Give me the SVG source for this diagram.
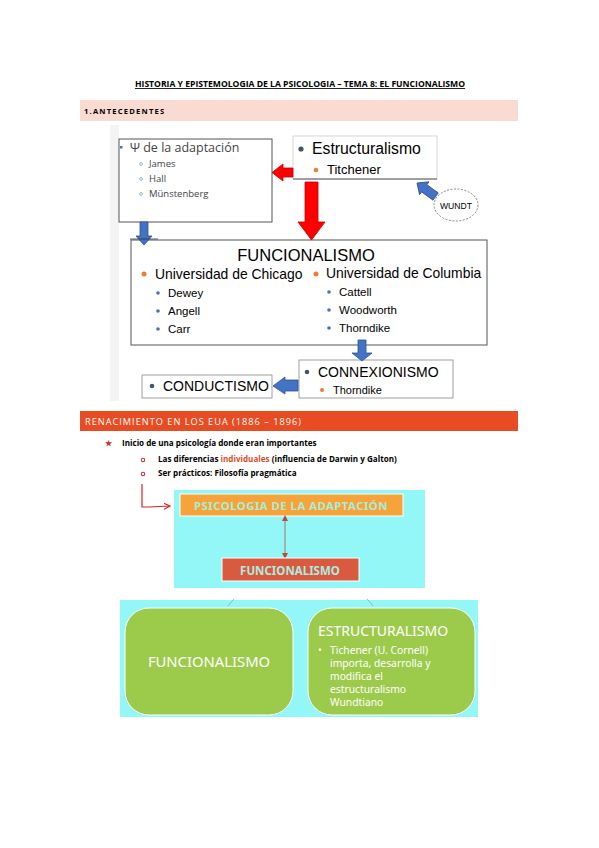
<svg xmlns="http://www.w3.org/2000/svg" width="599" height="848" viewBox="0 0 599 848">
<defs>
<style>
.t{font-family:"Liberation Sans",Arial,sans-serif;fill:#000}
.c{font-family:"Open Sans","Liberation Sans",sans-serif}
.g{font-family:"Noto Sans","Liberation Sans",sans-serif}
.box{fill:#fff;stroke:#555;stroke-width:1}
.blue{fill:#4472C4;stroke:#2F528F;stroke-width:0.8}
.red{fill:#FF0000;stroke:#C00000;stroke-width:0.8}
.sb{fill:none;stroke:#7F9FD8;stroke-width:0.8}
</style>
<marker id="ah" markerWidth="8" markerHeight="8" refX="6" refY="3" orient="auto" markerUnits="userSpaceOnUse"><path d="M0,0 L6,3 L0,6" fill="none" stroke="#E02020" stroke-width="1.2"/></marker>
<marker id="bh" markerWidth="6" markerHeight="6" refX="3" refY="3" orient="auto" markerUnits="userSpaceOnUse"><path d="M0,0 L6,3 L0,6 z" fill="#B0503A"/></marker>
<marker id="bt" markerWidth="6" markerHeight="6" refX="3" refY="3" orient="auto-start-reverse" markerUnits="userSpaceOnUse"><path d="M0,0 L6,3 L0,6 z" fill="#B0503A"/></marker>
</defs>
<rect width="599" height="848" fill="#fff"/>

<text class="c" x="300" y="87" font-size="8.6" font-weight="bold" text-anchor="middle" text-decoration="underline">HISTORIA Y EPISTEMOLOGIA DE LA PSICOLOGIA – TEMA 8: EL FUNCIONALISMO</text>

<g id="header1">
<rect x="80" y="100" width="438" height="21" fill="#FADBD2"/>
<text class="c" x="84" y="114" font-size="7.6" font-weight="bold" letter-spacing="1.2">1.ANTECEDENTES</text>
</g>

<rect x="110" y="125" width="9" height="276" fill="#F4F4F4"/>

<g id="adaptacion">
<rect class="box" x="119" y="139" width="153" height="83" stroke="#777"/>
<rect x="120" y="146" width="2.5" height="2.5" fill="#4472C4"/>
<text class="c" x="130" y="152" font-size="12.5" fill="#444">Ψ de la adaptación</text>
<g font-size="9.5" fill="#444">
<circle class="sb" cx="141" cy="164" r="1.4"/>
<text class="c" x="149" y="167">James</text>
<circle class="sb" cx="141" cy="179" r="1.4"/>
<text class="c" x="149" y="182">Hall</text>
<circle class="sb" cx="141" cy="194" r="1.4"/>
<text class="c" x="149" y="197">Münstenberg</text>
</g>
</g>

<g id="estructuralismo">
<rect x="293" y="136" width="144" height="43" fill="#fff" stroke="#ccc" stroke-width="0.8"/>
<line x1="293" y1="179" x2="437" y2="179" stroke="#555" stroke-width="1"/>
<circle cx="301" cy="149" r="2.6" fill="#44546A"/>
<text class="t" x="312" y="154" font-size="15.8">Estructuralismo</text>
<circle cx="316" cy="170" r="2.3" fill="#ED7D31"/>
<text class="t" x="327" y="174" font-size="13">Titchener</text>
</g>

<g id="wundt">
<ellipse cx="456" cy="205" rx="22" ry="16" fill="#fff" stroke="#666" stroke-width="0.8" stroke-dasharray="2,1.5"/>
<text class="t" x="456" y="208.5" font-size="8.6" text-anchor="middle" fill="#333">WUNDT</text>
</g>

<g id="funcionalismo">
<rect class="box" x="131" y="240" width="356" height="105"/>
<text class="t" x="306" y="261" font-size="16.5" text-anchor="middle">FUNCIONALISMO</text>
<circle cx="144" cy="274" r="2.5" fill="#ED7D31"/>
<text class="t" x="155" y="279" font-size="13.9">Universidad de Chicago</text>
<circle cx="316" cy="274" r="2.5" fill="#ED7D31"/>
<text class="t" x="326" y="278" font-size="13.9">Universidad de Columbia</text>
<g font-size="11.5">
<circle cx="158" cy="293" r="1.8" fill="#4472C4"/><text class="t" x="168" y="297">Dewey</text>
<circle cx="158" cy="311" r="1.8" fill="#4472C4"/><text class="t" x="168" y="315">Angell</text>
<circle cx="158" cy="329" r="1.8" fill="#4472C4"/><text class="t" x="168" y="333">Carr</text>
<circle cx="329" cy="292" r="1.8" fill="#4472C4"/><text class="t" x="339" y="296">Cattell</text>
<circle cx="329" cy="310" r="1.8" fill="#4472C4"/><text class="t" x="339" y="314">Woodworth</text>
<circle cx="329" cy="328" r="1.8" fill="#4472C4"/><text class="t" x="339" y="332">Thorndike</text>
</g>
</g>

<g id="connexionismo">
<rect x="299" y="360" width="154" height="38" fill="#fff" stroke="#888" stroke-width="0.8"/>
<circle cx="307" cy="372" r="2.3" fill="#44546A"/>
<text class="t" x="318" y="377" font-size="14">CONNEXIONISMO</text>
<circle cx="322" cy="390" r="2" fill="#ED7D31"/>
<text class="t" x="333" y="394" font-size="11">Thorndike</text>
</g>

<g id="conductismo">
<rect x="142" y="375" width="130" height="23" fill="#fff" stroke="#888" stroke-width="0.8"/>
<circle cx="152" cy="386" r="2.3" fill="#44546A"/>
<text class="t" x="163" y="391" font-size="14">CONDUCTISMO</text>
</g>

<g id="connectors">
<polygon class="red" points="293,168 283,168 283,164 272,172.5 283,181 283,177 293,177"/>
<polygon class="red" points="305,182 318,182 318,222 325,222 311.5,240 298,222 305,222"/>
<polygon class="blue" transform="translate(417,183) rotate(36)" points="0,0 9,-8 9,-4.5 23,-4.5 23,4.5 9,4.5 9,8"/>
<polygon class="blue" points="140,222 148,222 148,236 152,236 144,245 136,236 140,236"/>
<line x1="130" y1="239" x2="158" y2="239" stroke="#333" stroke-width="0.8"/>
<polygon class="blue" points="358,340 366,340 366,353 372,353 362,361 352,353 358,353"/>
<polygon class="blue" points="298,380 285,380 285,377 273,386 285,394 285,391 298,391"/>
</g>

<g id="header2">
<rect x="80" y="411" width="438" height="20" fill="#E84C22"/>
<text class="c" x="85" y="425" font-size="9.2" fill="#fff" letter-spacing="1">RENACIMIENTO EN LOS EUA (1886 – 1896)</text>
</g>

<g id="list" font-size="8.1" font-weight="bold">
<text class="c" x="105" y="446" font-size="8" fill="#C0392B">★</text>
<text class="c" x="122" y="446">Inicio de  una psicología donde eran importantes</text>
<circle cx="143" cy="460" r="1.7" fill="none" stroke="#C0392B" stroke-width="1.1"/>
<text class="c" x="158" y="462">Las diferencias <tspan fill="#E0502A">individuales</tspan> (influencia de  Darwin y Galton)</text>
<circle cx="143" cy="474" r="1.7" fill="none" stroke="#C0392B" stroke-width="1.1"/>
<text class="c" x="158" y="476">Ser prácticos: Filosofía pragmática</text>
</g>

<g id="link">
<path d="M142,484 L142,507 L149,507 L170,506" fill="none" stroke="#E02020" stroke-width="1.2" marker-end="url(#ah)"/>
</g>

<g id="smartart1">
<rect x="174" y="490" width="251" height="98" fill="#94F7F7"/>
<g id="psico-adaptacion">
<rect x="180" y="494" width="223" height="22" fill="#F5A33A" stroke="#fff" stroke-width="1"/>
<text class="g" x="291" y="510" font-size="11.3" font-weight="bold" text-anchor="middle" fill="#A9EDD9" letter-spacing="0.5">PSICOLOGIA DE LA ADAPTACIÓN</text>
</g>
<line x1="285" y1="518" x2="285" y2="556" stroke="#B0503A" stroke-width="0.8" marker-start="url(#bt)" marker-end="url(#bh)"/>
<g id="func2">
<rect x="222" y="558" width="137" height="23" fill="#D95A3E" stroke="#fff" stroke-width="1"/>
<text class="g" x="290" y="575" font-size="11.5" font-weight="bold" text-anchor="middle" fill="#A9EDE0">FUNCIONALISMO</text>
</g>
</g>

<g id="smartart2">
<rect x="120" y="600" width="358" height="117" fill="#94F7F7"/>
<path d="M228,606 Q231,602 234,599" fill="none" stroke="#7FB0A0" stroke-width="0.8"/>
<path d="M367,599 Q370,602 373,606" fill="none" stroke="#7FB0A0" stroke-width="0.8"/>
<g id="func3">
<rect x="125" y="608" width="168" height="107" rx="24" fill="#9CCB4B" stroke="#fff" stroke-width="1"/>
<text class="g" x="209" y="667" font-size="14.8" text-anchor="middle" fill="#fff">FUNCIONALISMO</text>
</g>
<g id="estr2">
<rect x="308" y="608" width="167" height="107" rx="24" fill="#9CCB4B" stroke="#fff" stroke-width="1"/>
<text class="g" x="318" y="636" font-size="14" fill="#fff">ESTRUCTURALISMO</text>
<g font-size="10.3" fill="#fff">
<text class="g" x="318" y="654">•</text>
<text class="g" x="330" y="654">Tichener (U. Cornell)</text>
<text class="g" x="330" y="667">importa, desarrolla y</text>
<text class="g" x="330" y="680">modifica el</text>
<text class="g" x="330" y="693">estructuralismo</text>
<text class="g" x="330" y="706">Wundtiano</text>
</g>
</g>
</g>
</svg>
